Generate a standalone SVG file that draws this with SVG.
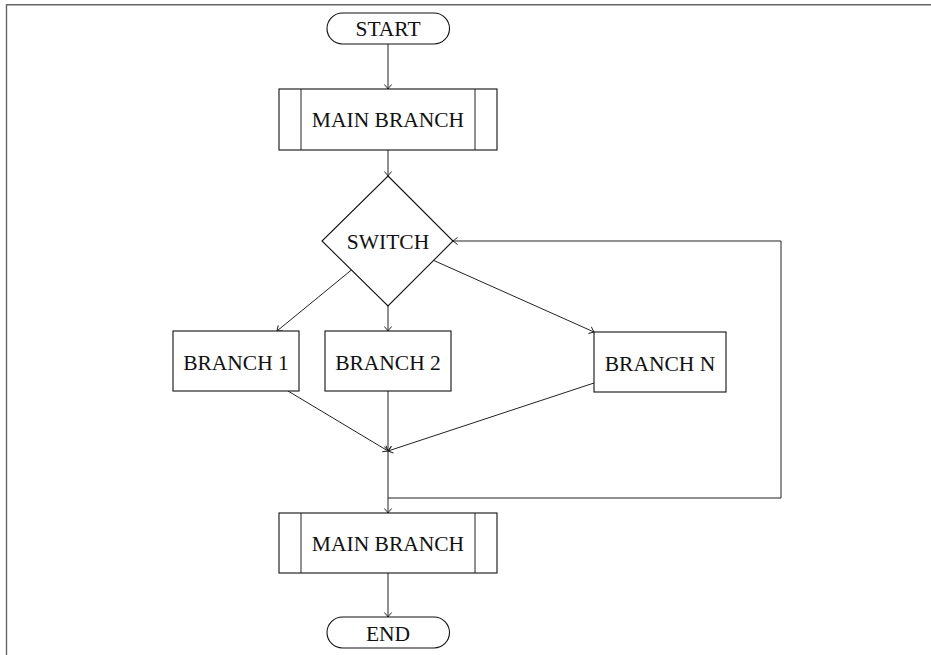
<svg xmlns="http://www.w3.org/2000/svg" width="931" height="655" viewBox="0 0 931 655">
<style>
.node{fill:#fff;stroke:#111;stroke-width:1.1}
.lbl{font-family:"Liberation Serif","DejaVu Serif",serif;font-size:21.5px;fill:#111;text-anchor:middle}
.edge{fill:none;stroke:#222;stroke-width:1;marker-end:url(#arr)}
.plain{fill:none;stroke:#222;stroke-width:1}
.frame{fill:none;stroke:#666;stroke-width:1.4}
</style>
<defs>
<marker id="arr" markerUnits="userSpaceOnUse" markerWidth="12" markerHeight="12" viewBox="-6 -6 12 12" refX="0" refY="0" orient="auto" overflow="visible">
<path d="M-4.5,-3.6 Q-1.2,-0.8 0,0 Q-1.2,0.8 -4.5,3.6" fill="none" stroke="#222" stroke-width="1"/>
</marker>
</defs>
<path class="frame" d="M6.5,655 V4.7 H931"/>
<g id="connectors">
<line class="edge" x1="388" y1="44" x2="388" y2="89"/>
<line class="edge" x1="388" y1="150" x2="388" y2="176"/>
<line class="edge" x1="352" y1="269.5" x2="277" y2="331"/>
<line class="edge" x1="388" y1="306" x2="388" y2="331"/>
<line class="edge" x1="433.4" y1="260.3" x2="594" y2="332"/>
<line class="edge" x1="288" y1="391" x2="388" y2="451"/>
<line class="edge" x1="388" y1="391" x2="388" y2="451"/>
<line class="edge" x1="594" y1="383" x2="388" y2="451"/>
<line class="edge" x1="388" y1="451" x2="388" y2="513"/>
<path class="edge" d="M388,498 H781 V241 H453"/>
<line class="edge" x1="388" y1="573" x2="388" y2="617"/>
</g>
<g id="start">
<rect class="node" x="327" y="13" width="122.5" height="31" rx="15.5" ry="15.5"/>
<text class="lbl" x="388" y="35.5">START</text>
</g>
<g id="main1">
<rect class="node" x="279" y="89" width="218" height="61"/>
<line class="plain" x1="301" y1="89" x2="301" y2="150"/>
<line class="plain" x1="475" y1="89" x2="475" y2="150"/>
<text class="lbl" x="388" y="127">MAIN BRANCH</text>
</g>
<g id="switch">
<polygon class="node" points="388,176 453,241 388,306 322,241"/>
<text class="lbl" x="388" y="248.5">SWITCH</text>
</g>
<g id="branch1">
<rect class="node" x="173" y="331" width="126" height="60"/>
<text class="lbl" x="236" y="370">BRANCH 1</text>
</g>
<g id="branch2">
<rect class="node" x="325" y="331" width="126" height="60"/>
<text class="lbl" x="388" y="370">BRANCH 2</text>
</g>
<g id="branchN">
<rect class="node" x="594" y="332" width="132" height="60"/>
<text class="lbl" x="660" y="370.5">BRANCH N</text>
</g>
<g id="main2">
<rect class="node" x="279" y="513" width="218" height="60"/>
<line class="plain" x1="301" y1="513" x2="301" y2="573"/>
<line class="plain" x1="475" y1="513" x2="475" y2="573"/>
<text class="lbl" x="388" y="550.5">MAIN BRANCH</text>
</g>
<g id="end">
<rect class="node" x="327" y="617" width="122.5" height="31" rx="15.5" ry="15.5"/>
<text class="lbl" x="388" y="640.5">END</text>
</g>
</svg>
